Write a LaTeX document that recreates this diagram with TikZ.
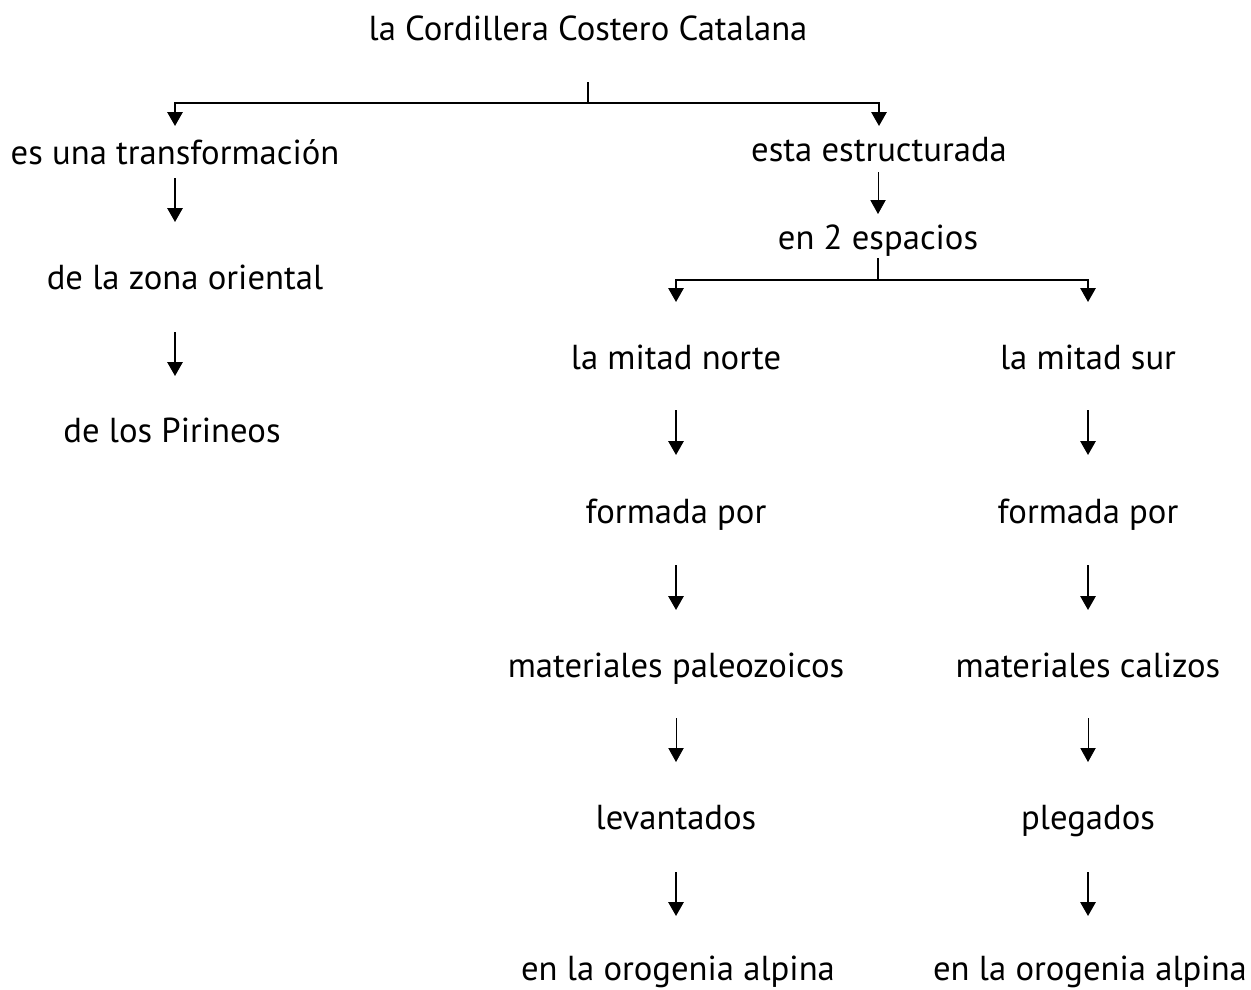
\documentclass[tikz,border=0pt]{standalone}
\usepackage{fontspec}
\setmainfont{PT Sans}
\usetikzlibrary{arrows.meta,calc}
\tikzset{
  lbl/.style={anchor=base,inner sep=0pt,font=\fontsize{26}{30}\selectfont},
  ln/.style={line width=1.5pt,black},
  arr/.style={line width=1.5pt,black,-{Triangle[width=11.5pt,length=10.5pt]}},
  tarr/.style={line width=0.6pt,black,-{Triangle[width=11.5pt,length=10.5pt]}},
}
\begin{document}
\begin{tikzpicture}[x=0.75pt,y=-0.75pt]
\useasboundingbox (0,0) rectangle (1251,989);
% nodes
\node[lbl] (t)  at (588,40)  {la Cordillera Costero Catalana};
\node[lbl] (e1) at (175,164) {es una transformación};
\node[lbl] (e2) at (879,161) {esta estructurada};
\node[lbl] (z)  at (185,289) {de la zona oriental};
\node[lbl] (p)  at (172,442) {de los Pirineos};
\node[lbl] (s)  at (878,249) {en 2 espacios};
\node[lbl] (n1) at (676,369) {la mitad norte};
\node[lbl] (n2) at (676,523) {formada por};
\node[lbl] (n3) at (676,677) {materiales paleozoicos};
\node[lbl] (n4) at (676,829) {levantados};
\node[lbl] (n5) at (678,980) {en la orogenia alpina};
\node[lbl] (m1) at (1088,369) {la mitad sur};
\node[lbl] (m2) at (1088,523) {formada por};
\node[lbl] (m3) at (1088,677) {materiales calizos};
\node[lbl] (m4) at (1088,829) {plegados};
\node[lbl] (m5) at (1090,980) {en la orogenia alpina};
% top branching
\coordinate (tj) at ($(t.base)+(0,63)$);
\draw[ln] ($(t.base)+(0,42)$) -- (tj);
\draw[arr] (tj) -| ($(e1.base)+(0,-38)$);
\draw[arr] (tj) -| ($(e2.base)+(0,-35)$);
% left column
\draw[arr] ($(e1.base)+(0,14)$) -- ($(e1.base|-z.base)+(0,-67)$);
\draw[arr] ($(e1.base|-z.base)+(0,43)$) -- ($(e1.base|-p.base)+(0,-66)$);
% esta estructurada -> en 2 espacios
\draw[tarr] ($(s.base|-e2.base)+(0,11)$) -- ($(s.base)+(0,-35)$);
% second branching
\coordinate (sj) at ($(s.base)+(0,31)$);
\draw[ln] ($(s.base)+(0,9)$) -- (sj);
\draw[arr] (sj) -| ($(n1.base)+(0,-67)$);
\draw[arr] (sj) -| ($(m1.base)+(0,-67)$);
% middle column
\draw[arr] ($(n1.base)+(0,41)$) -- ($(n2.base)+(0,-68)$);
\draw[arr] ($(n2.base)+(0,42)$) -- ($(n3.base)+(0,-67)$);
\draw[tarr] ($(n3.base)+(0,41)$) -- ($(n4.base)+(0,-67)$);
\draw[arr] ($(n4.base)+(0,43)$) -- ($(n4.base|-n5.base)+(0,-64)$);
% right column
\draw[arr] ($(m1.base)+(0,41)$) -- ($(m2.base)+(0,-68)$);
\draw[arr] ($(m2.base)+(0,42)$) -- ($(m3.base)+(0,-67)$);
\draw[tarr] ($(m3.base)+(0,41)$) -- ($(m4.base)+(0,-67)$);
\draw[arr] ($(m4.base)+(0,43)$) -- ($(m4.base|-m5.base)+(0,-64)$);
\end{tikzpicture}
\end{document}
